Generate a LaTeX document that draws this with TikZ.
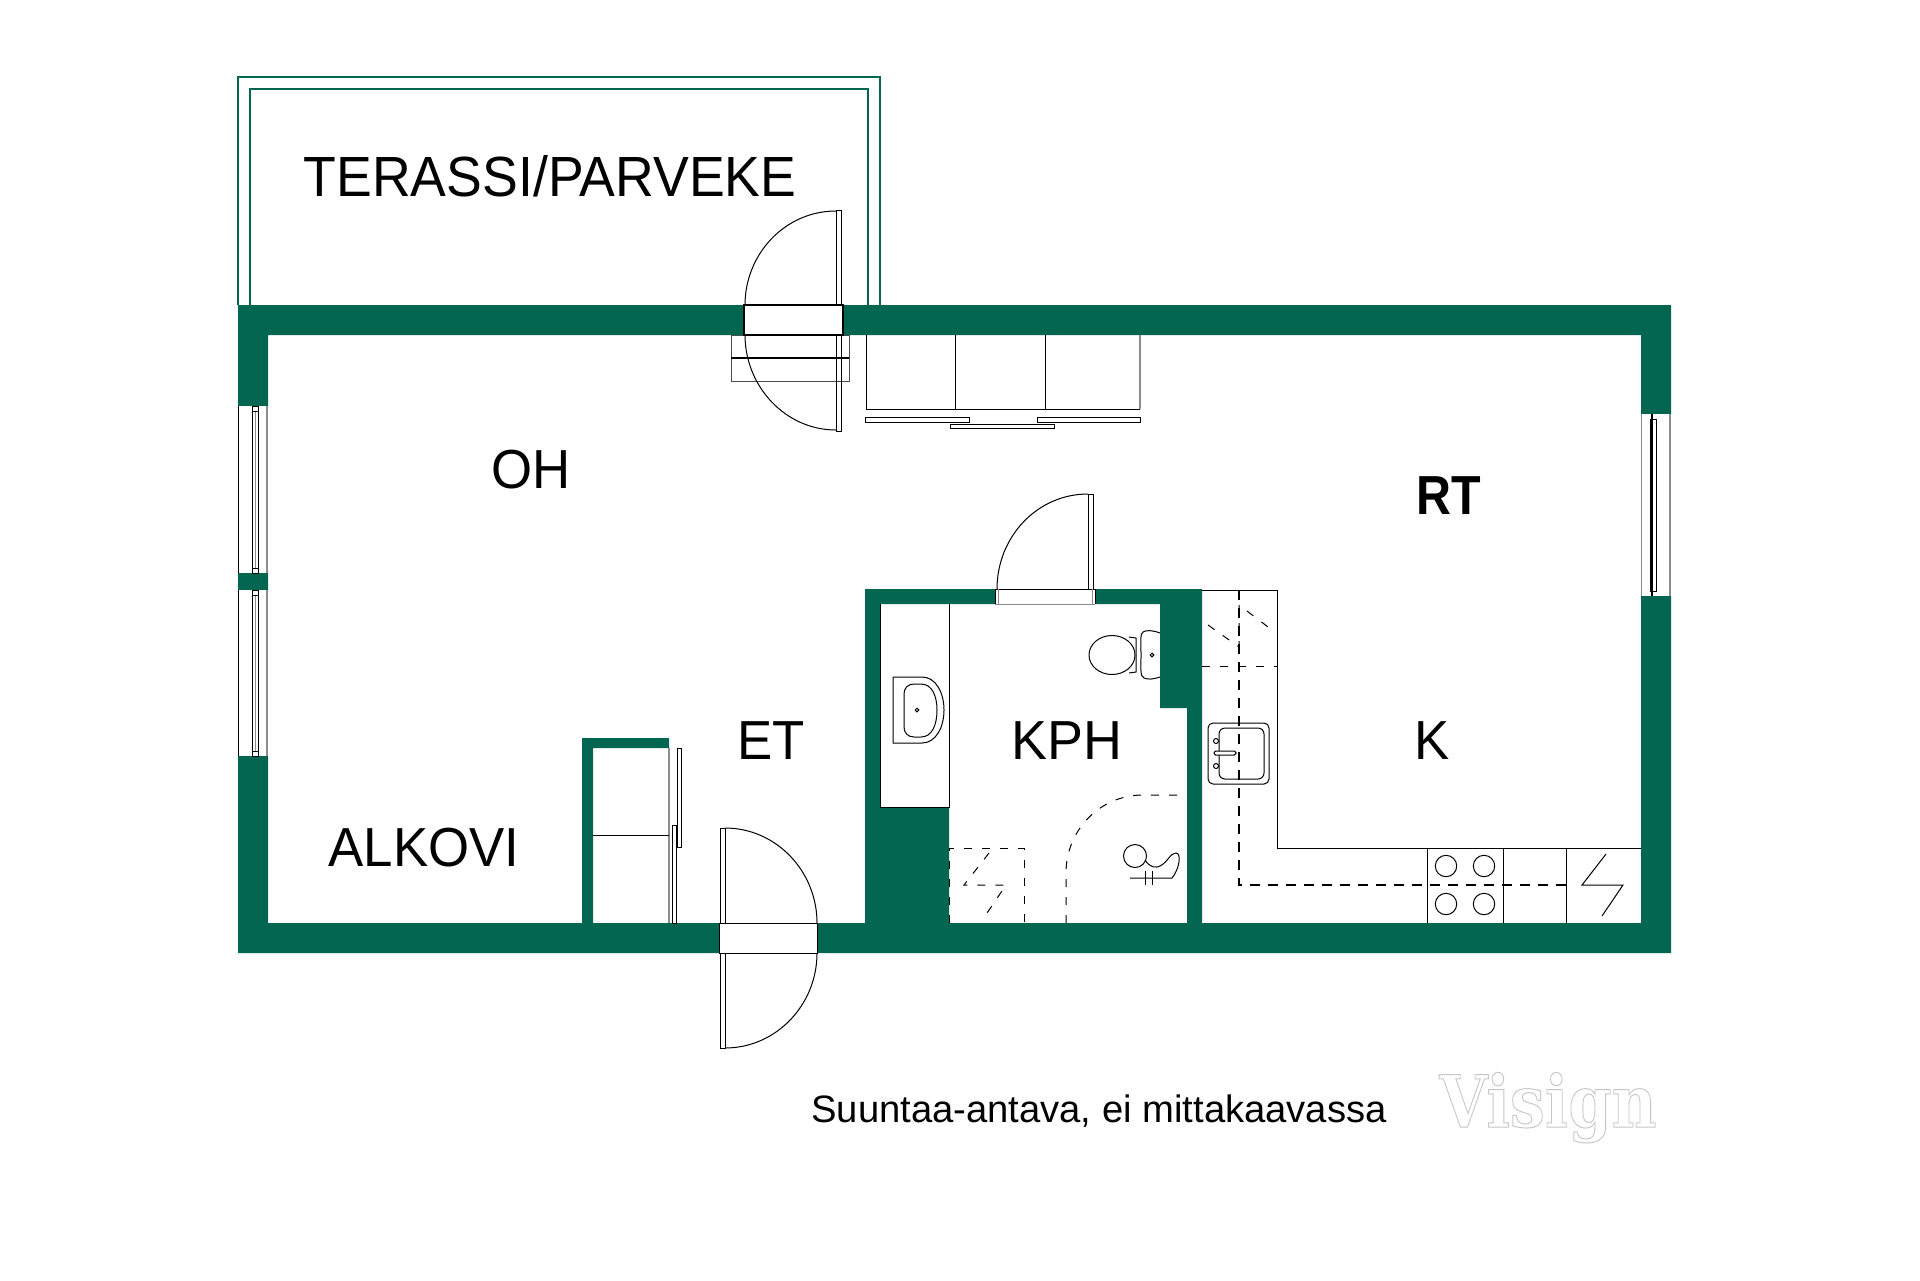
\documentclass[tikz,border=0pt]{standalone}
\usepackage{graphicx}
\usepackage{fontspec}
\setmainfont{Liberation Sans}
\newfontfamily\logofont{DejaVu Serif}
\definecolor{wall}{RGB}{3,102,81}
\tikzset{
  thin line/.style={draw=black,line width=0.5pt},
  gray line/.style={draw=black!45,line width=0.6pt},
  leaf/.style={draw=black,line width=0.5pt,fill=white},
  dash line/.style={draw=black,line width=0.6pt,dash pattern=on 5pt off 4pt},
  fine dash/.style={draw=black,line width=0.5pt,dash pattern=on 4pt off 5pt},
  terrace/.style={draw=wall,line width=0.9pt},
  room/.style={inner sep=0pt,anchor=base,font=\fontsize{27.5}{30}\selectfont,text=black}
}
\begin{document}
\begin{tikzpicture}[x=0.5pt,y=-0.5pt]
\useasboundingbox (0,0) rectangle (1920,1280);
\fill[white] (0,0) rectangle (1920,1280);
% terrace
\draw[terrace] (238,305) -- (238,77) -- (880,77) -- (880,305);
\draw[terrace] (250,305) -- (250,89) -- (868,89) -- (868,305);
% outer walls
\fill[wall,even odd rule] (238,305) rectangle (1671,953) (268,335) rectangle (1641,923);
% bathroom walls
\fill[wall] (865,589) -- (1202,589) -- (1202,923) -- (1187,923) -- (1187,708) -- (1160,708) -- (1160,604) -- (880,604) -- (880,807) -- (949,807) -- (949,923) -- (865,923) -- cycle;
% closet walls
\fill[wall] (582,923) -- (582,738) -- (669,738) -- (669,748) -- (593,748) -- (593,923) -- cycle;
% left windows
\foreach \a/\b in {406/573,590/756}{
  \fill[white] (237,\a) rectangle (269,\b);
  \draw[thin line] (238,\a) -- (238,\b);
  \draw[gray line] (267,\a) -- (267,\b);
  \draw[thin line] (252.5,\a) rectangle (258,\b);
  \draw[gray line,line width=0.4pt] (255,\a+5) -- (255,\b-5);
  \draw[thin line,line width=0.4pt] (252.5,\a+5) -- (258,\a+5) (252.5,\b-5) -- (258,\b-5);
}
% right window
\fill[white] (1640,414) rectangle (1672,596);
\draw[gray line] (1641.5,414) -- (1641.5,596) (1670,414) -- (1670,596);
\draw[thin line,line width=0.4pt] (1650,419) rectangle (1656,591);
\draw[draw=black,line width=1pt] (1651.5,414) -- (1651.5,596);
% wardrobe
\draw[thin line] (866,335) -- (866,409) -- (1140,409);
\draw[gray line] (1140,409) -- (1140,335);
\draw[thin line] (955,335) -- (955,409) (1045,335) -- (1045,409);
\draw[leaf] (865,417) rectangle (969,422);
\draw[leaf] (1037,417) rectangle (1140,422);
\draw[leaf] (950,424) rectangle (1054,428);
% balcony door
\fill[white] (744,305) rectangle (843,335);
\draw[thin line,draw=black!70] (731,335) rectangle (849,381);
\draw[draw=black,line width=0.7pt] (731,358) -- (849,358);
\draw[thin line] (836,211) .. controls (785,211) and (745,254) .. (745,305);
\draw[thin line] (745,335) .. controls (745,386) and (785,430) .. (836,430);
\draw[thin line] (836,210) rectangle (841,431);
\draw[draw=black,line width=0.6pt,fill=white] (744,305) rectangle (843,335);
% bathroom door
\fill[white] (995,589) rectangle (1095,604);
\draw[thin line] (997,589) .. controls (997,537) and (1037,494) .. (1088,494);
\draw[leaf] (1088,494) rectangle (1093,589);
\draw[thin line] (995,589) -- (1095,589) (995,589) -- (995,604) (1095,589) -- (1095,604);
\draw[gray line,line width=0.4pt] (998,589) -- (998,604) (1092,589) -- (1092,604) (995,604) -- (1095,604);
% entrance door
\fill[white] (719,923) rectangle (818,953);
\draw[thin line] (725,828) .. controls (776,828) and (817,871) .. (817,923);
\draw[thin line] (817,953) .. controls (817,1005) and (776,1048) .. (725,1048);
\draw[leaf] (720,828) rectangle (725,923);
\draw[leaf] (720,953) rectangle (725,1048);
\draw[thin line] (719,923) -- (818,923) (719,953) -- (818,953) (719.5,923) -- (719.5,953) (817.5,923) -- (817.5,953);
% closet
\draw[gray line] (669,748) -- (669,923);
\draw[thin line,line width=0.45pt] (593,835) -- (669,835);
\draw[leaf] (677,748) rectangle (681,847);
\draw[leaf] (672,825) rectangle (676,923);
% basin counter
\draw[thin line] (880,604) -- (880,807) -- (949,807) -- (949,604);
\draw[thin line] (893,677) -- (922,677) .. controls (936,677) and (944,693) .. (944,710) .. controls (944,727) and (936,743) .. (922,743) -- (893,743) -- cycle;
\draw[thin line] (904,694) .. controls (904,688) and (908,684) .. (914,684) -- (921,684) .. controls (932,684) and (937,696) .. (937,710) .. controls (937,725) and (932,737) .. (921,737) -- (914,737) .. controls (908,737) and (904,733) .. (904,727) -- cycle;
\draw[thin line] (917,710) circle [radius=1.8];
% toilet
\draw[thin line] (1112,655) ellipse [x radius=23,y radius=19.5];
\draw[thin line] (1129,637) -- (1136,638) -- (1136,672) -- (1129,673);
\draw[thin line] (1160,633) .. controls (1152,630) and (1146,630) .. (1143,632) .. controls (1140,634) and (1141,640) .. (1141,655) .. controls (1141,670) and (1140,676) .. (1144,678) .. controls (1148,680) and (1154,679) .. (1160,677);
\draw[thin line] (1152,655) circle [radius=1.8];
% laundry space
\draw[fine dash] (949,923) -- (949,848) -- (1024,848) -- (1024,923);
\draw[fine dash] (989,853) -- (964,885) -- (1006,885) -- (985,916);
% shower
\draw[fine dash] (1066,923) -- (1066,873) .. controls (1066,830) and (1100,795) .. (1143,795) -- (1187,795);
\draw[thin line] (1135,856) circle [radius=11.5];
\draw[thin line] (1145,860) .. controls (1150,868) and (1156,868) .. (1160,866) .. controls (1168,862) and (1170,853) .. (1176,853) .. controls (1182,853) and (1179,870) .. (1172,878) -- (1130,878);
\draw[thin line] (1145,871) -- (1145,885) (1152,871) -- (1152,885);
% kitchen counter
\draw[thin line] (1202,590) -- (1277,590) -- (1277,848) -- (1641,848);
\draw[thin line] (1427,848) -- (1427,923) (1503,848) -- (1503,923) (1566,848) -- (1566,923);
\draw[dash line] (1239,590) -- (1239,885) -- (1566,885);
\draw[fine dash] (1202,666) -- (1277,666);
\draw[fine dash] (1208,625) -- (1239,647) -- (1239,605) -- (1272,630);
\foreach \cx/\cy in {1446/866,1484/866,1446/904,1484/904}{
  \draw[thin line] (\cx,\cy) circle [radius=10.7];
}
\draw[thin line] (1606,854) -- (1582,885) -- (1623,885) -- (1602,916);
% kitchen sink
\draw[thin line,rounded corners=2.5pt] (1208,723) rectangle (1269,784);
\draw[thin line,rounded corners=3pt] (1219,728) rectangle (1264,779);
\draw[leaf,rounded corners=0.8pt] (1214,751) rectangle (1236,755);
\draw[thin line,fill=white] (1216,741) circle [radius=2.5] (1216,766) circle [radius=2.5];
% texts
\node[room] (terassi) at (550,196) {\scalebox{0.975}[1.03]{TERASSI/PARVEKE}};
\node[room] (oh) at (531,488) {\scalebox{0.96}[1]{OH}};
\node[room] (rt) at (1456,514) {\hspace{-7pt}\scalebox{0.88}[1]{\textbf{RT}}};
\node[room] (et) at (771,759) {\scalebox{0.96}[1]{ET}};
\node[room] (kph) at (1067,759) {\scalebox{0.98}[1]{KPH}};
\node[room] (k) at (1432,759) {\scalebox{0.96}[1]{K}};
\node[room] (alkovi) at (424,866) {\scalebox{0.96}[1]{ALKOVI}};
\node[inner sep=0pt,anchor=base] (note) at (1099,1122) {\fontsize{19.1}{22}\selectfont Suuntaa-antava, ei mittakaavassa};
\node[inner sep=0pt,anchor=base,text=black!25] (logo) at (1548,1127) {\scalebox{0.86}[1]{\fontsize{36}{40}\selectfont\logofont\bfseries\special{pdf:code q 1 Tr 0.5 w 0.78 G}Visign\special{pdf:code Q}}};
\end{tikzpicture}
\end{document}
